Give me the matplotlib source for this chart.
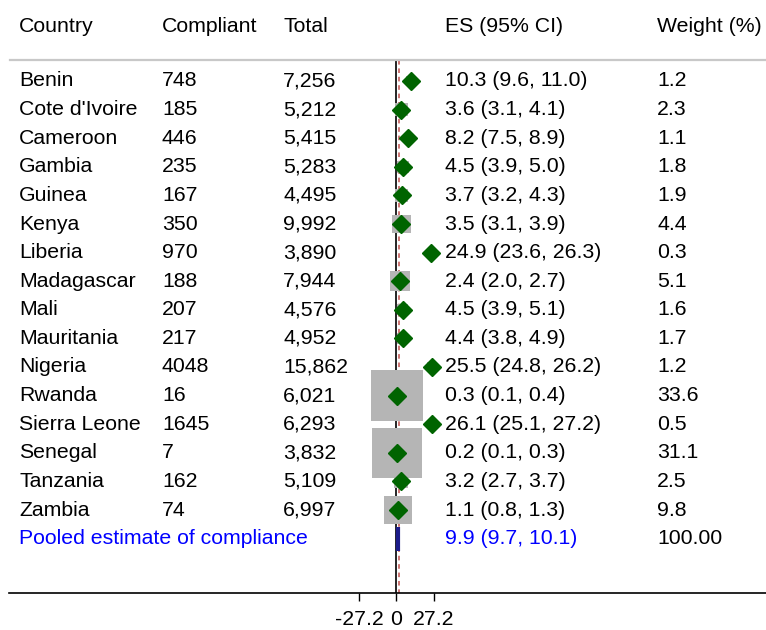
import matplotlib

matplotlib.use("Agg")
import matplotlib.pyplot as plt

plt.rcParams["font.family"] = ["Liberation Sans", "DejaVu Sans"]

countries = [
    "Benin", "Cote d'Ivoire", "Cameroon", "Gambia", "Guinea", "Kenya", "Liberia",
    "Madagascar", "Mali", "Mauritania", "Nigeria", "Rwanda", "Sierra Leone",
    "Senegal", "Tanzania", "Zambia",
]
compliant = [748, 185, 446, 235, 167, 350, 970, 188, 207, 217, 4048, 16, 1645, 7, 162, 74]
totals = [7256, 5212, 5415, 5283, 4495, 9992, 3890, 7944, 4576, 4952, 15862, 6021, 6293, 3832, 5109, 6997]
es = [10.3, 3.6, 8.2, 4.5, 3.7, 3.5, 24.9, 2.4, 4.5, 4.4, 25.5, 0.3, 26.1, 0.2, 3.2, 1.1]
ci_low = [9.6, 3.1, 7.5, 3.9, 3.2, 3.1, 23.6, 2.0, 3.9, 3.8, 24.8, 0.1, 25.1, 0.1, 2.7, 0.8]
ci_high = [11.0, 4.1, 8.9, 5.0, 4.3, 3.9, 26.3, 2.7, 5.1, 4.9, 26.2, 0.4, 27.2, 0.3, 3.7, 1.3]
weights = [1.2, 2.3, 1.1, 1.8, 1.9, 4.4, 0.3, 5.1, 1.6, 1.7, 1.2, 33.6, 0.5, 31.1, 2.5, 9.8]

pooled_label = "Pooled estimate of compliance"
pooled_es, pooled_low, pooled_high = 9.9, 9.7, 10.1
pooled_weight = "100.00"
# where the pooled bar and the dashed overall line sit in the original picture
pooled_bar_x = 1.0
overall_line_x = 2.0

headers = ["Country", "Compliant", "Total", "ES (95% CI)", "Weight (%)"]
x_ticks = [-27.2, 0, 27.2]

W, H = 766, 630
ZERO_PX, PX_PER_UNIT = 396.5, 1.375
ROW0_PX, ROW_STEP = 81, 28.6
AXIS_PX = 593
COL_PX = [19, 162, 283, 445, 657]
FS = 15.3


def px_to_row(py):
    return (py - ROW0_PX) / ROW_STEP


fig = plt.figure(figsize=(W / 100, H / 100), dpi=100)
ax = fig.add_axes([0, (H - AXIS_PX) / H, 1, AXIS_PX / H])
x_left = -ZERO_PX / PX_PER_UNIT
x_right = (W - ZERO_PX) / PX_PER_UNIT
ax.set_xlim(x_left, x_right)
y_bottom, y_top = px_to_row(AXIS_PX), px_to_row(0)
ax.set_ylim(y_bottom, y_top)

for side in ["top", "left", "right"]:
    ax.spines[side].set_visible(False)
ax.spines["bottom"].set_bounds((9 - ZERO_PX) / PX_PER_UNIT, x_right)
ax.spines["bottom"].set_linewidth(1.2)
ax.set_yticks([])
ax.set_xticks(x_ticks, ["-27.2", "0", "27.2"])
ax.tick_params(axis="x", direction="out", length=5.5, width=1, labelsize=FS, pad=7)

sep_row = px_to_row(60)
ax.axhline(sep_row, xmin=10 / W, xmax=1, color="#c8c8c8", linewidth=1.6)
ax.vlines(0, sep_row, y_bottom, color="black", linewidth=1.2, zorder=1)
ax.vlines(overall_line_x, sep_row, y_bottom, color="#c0504d", linewidth=1.1,
          linestyles=(0, (3, 2.5)), zorder=1)

rows = list(range(len(countries)))
ax.scatter(es, rows, s=[w * 41 for w in weights], marker="s", color="#b5b5b5",
           edgecolors="none", zorder=2)
ax.plot(es, rows, linestyle="none", marker="D", markersize=8.8, color="#006400", zorder=3)

pooled_row = len(countries)
ax.vlines(pooled_bar_x, pooled_row - 0.42, pooled_row + 0.42, color="#1c1c8a", linewidth=3, zorder=3)

tr = ax.get_yaxis_transform()
header_row = px_to_row(27)
for text, px in zip(headers, COL_PX):
    ax.text(px / W, header_row, text, transform=tr, ha="left", va="center", fontsize=FS)

for r, (c, n, t, e, lo, hi, w) in enumerate(zip(countries, compliant, totals, es, ci_low, ci_high, weights)):
    cells = [c, str(n), f"{t:,}", f"{e:.1f} ({lo:.1f}, {hi:.1f})", f"{w:.1f}"]
    for text, px in zip(cells, COL_PX):
        ax.text(px / W, r, text, transform=tr, ha="left", va="center", fontsize=FS)

ax.text(COL_PX[0] / W, pooled_row, pooled_label, transform=tr, ha="left", va="center",
        fontsize=FS, color="#0000ff")
ax.text(COL_PX[3] / W, pooled_row, f"{pooled_es:.1f} ({pooled_low:.1f}, {pooled_high:.1f})",
        transform=tr, ha="left", va="center", fontsize=FS, color="#0000ff")
ax.text(COL_PX[4] / W, pooled_row, pooled_weight, transform=tr, ha="left", va="center", fontsize=FS)

fig.savefig("out.png", dpi=100, facecolor="white")
